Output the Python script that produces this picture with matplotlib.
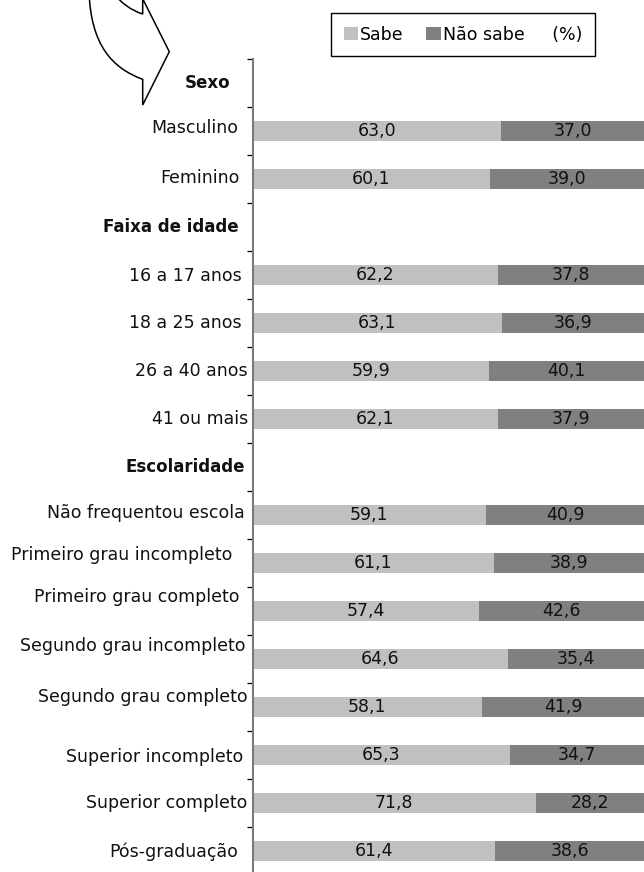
import matplotlib
matplotlib.use("Agg")
import matplotlib.pyplot as plt
import matplotlib.transforms as mtransforms
from matplotlib.path import Path
from matplotlib.patches import PathPatch
import numpy as np

# ---------------- data ----------------
group_names = ["Sexo", "Faixa de idade", "Escolaridade"]
group_members = [
    ["Masculino", "Feminino"],
    ["16 a 17 anos", "18 a 25 anos", "26 a 40 anos", "41 ou mais"],
    ["Não frequentou escola", "Primeiro grau incompleto", "Primeiro grau completo",
     "Segundo grau incompleto", "Segundo grau completo", "Superior incompleto",
     "Superior completo", "Pós-graduação"],
]
sabe = [63.0, 60.1, 62.2, 63.1, 59.9, 62.1, 59.1, 61.1, 57.4, 64.6, 58.1, 65.3, 71.8, 61.4]
nao_sabe = [37.0, 39.0, 37.8, 36.9, 40.1, 37.9, 40.9, 38.9, 42.6, 35.4, 41.9, 34.7, 28.2, 38.6]
series_names = ["Sabe", "Não sabe"]
unit_label = "(%)"

# ---------------- layout ----------------
W, H = 644, 872
FS = 12.5
plt.rcParams['font.family'] = ['DejaVu Sans']

row_labels, row_is_header = [], []
for g, members in zip(group_names, group_members):
    row_labels.append(g); row_is_header.append(True)
    for m in members:
        row_labels.append(m); row_is_header.append(False)
n_rows = len(row_labels)
bar_rows = [i for i, h in enumerate(row_is_header) if not h]

# per-row label placement (right edge in px, vertical offset in px)
label_right_px = [230, 238, 240, 239, 242, 242, 248, 248, 245, 245, 232, 240, 245, 248, 243, 247, 238]
label_dy_px = [0, -3, -1, 0, 1, 0, 0, 0, 0, -2, -8, -14, -13, -10, 2, 0, 0]

fig = plt.figure(figsize=(W / 100, H / 100), dpi=100)
top_px, slot_px = 59.3, 48.0
ax_left, ax_right = 252.5, 644.0
bottom_px = top_px + slot_px * n_rows
ax = fig.add_axes([ax_left / W, 1 - bottom_px / H, (ax_right - ax_left) / W, (bottom_px - top_px) / H])

c_sabe, c_nao = "#c0c0c0", "#808080"
b1 = ax.barh(bar_rows, sabe, height=0.415, color=c_sabe, label=series_names[0])
b2 = ax.barh(bar_rows, nao_sabe, left=sabe, height=0.415, color=c_nao, label=series_names[1])

fmt = lambda v: f"{v:.1f}".replace(".", ",")
ax.bar_label(b1, labels=[fmt(v) for v in sabe], label_type="center", fontsize=FS, color="#111111")
ax.bar_label(b2, labels=[fmt(v) for v in nao_sabe], label_type="center", fontsize=FS, color="#111111")

ax.set_xlim(0, 99.1)
ax.set_ylim(n_rows - 0.5, -0.5)
for s in ["top", "right", "bottom"]:
    ax.spines[s].set_visible(False)
ax.spines["left"].set_color("#7a7a7a")
ax.spines["left"].set_linewidth(1.5)
ax.set_xticks([])
ax.set_yticks(np.arange(n_rows + 1) - 0.5)
ax.set_yticklabels([])
ax.tick_params(axis="y", direction="out", length=4.2, width=0.9, color="black")

trans = mtransforms.blended_transform_factory(fig.transFigure, ax.transData)
for i, lab in enumerate(row_labels):
    ax.text(label_right_px[i] / W, i + label_dy_px[i] / slot_px, lab, transform=trans,
            ha="right", va="center", fontsize=FS if not row_is_header[i] else 12,
            fontweight="bold" if row_is_header[i] else "normal", color="#111111")

# legend
leg = fig.legend(handles=[b1, b2], labels=[series_names[0], series_names[1] + "     " + unit_label],
                 loc="center", bbox_to_anchor=(463.0 / W, 1 - 34.5 / H), ncol=2,
                 fontsize=FS, frameon=True, fancybox=False, framealpha=1,
                 edgecolor="black", handlelength=0.86, handleheight=0.78,
                 handletextpad=0.1, columnspacing=1.3, borderpad=0.72, borderaxespad=0)
leg.get_frame().set_linewidth(1.0)

# curved arrow (decorative, top-left)
verts = [(89, -8), (91, 45), (112, 68), (142.7, 79.3),
         (142.7, 105), (169.3, 51.7), (139.3, -8), (142.7, -8), (142.7, 14),
         (126, 9), (112, -8), (89, -8)]
codes = [Path.MOVETO, Path.CURVE4, Path.CURVE4, Path.CURVE4,
         Path.LINETO, Path.LINETO, Path.LINETO, Path.LINETO, Path.LINETO,
         Path.CURVE3, Path.CURVE3, Path.CLOSEPOLY]
pix2fig = mtransforms.Affine2D().scale(1 / W, -1 / H).translate(0, 1) + fig.transFigure
arrow = PathPatch(Path(verts, codes), facecolor="white", edgecolor="black", lw=1.1,
                  transform=pix2fig, joinstyle="miter")
fig.add_artist(arrow)

fig.savefig("out.png", dpi=100)
